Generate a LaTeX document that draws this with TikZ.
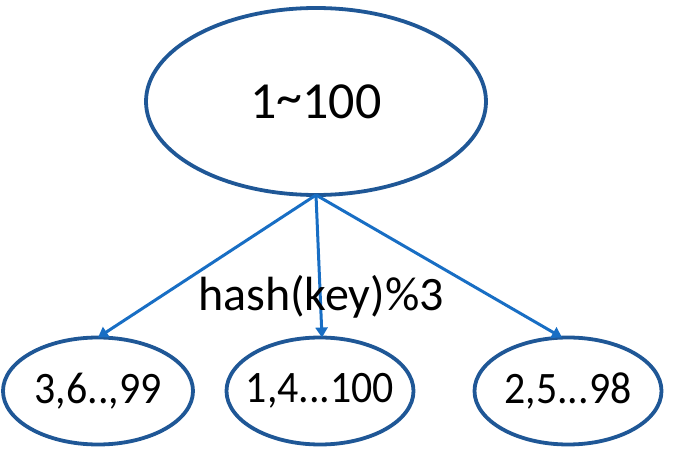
\documentclass[tikz,border=0pt]{standalone}
\usepackage{fontspec}
\setmainfont{Carlito}
\usetikzlibrary{shapes.geometric,arrows.meta}
\definecolor{ringblue}{RGB}{31,87,150}
\definecolor{arrowblue}{RGB}{24,110,196}
\tikzset{
  ring/.style={ellipse,draw=ringblue,line width=3.8pt,inner sep=0pt,outer sep=0pt,text=black},
  conn/.style={draw=arrowblue,line width=3pt,-{Triangle[width=12pt,length=10pt]}},
  bigtext/.style={font=\fontsize{45}{54}\selectfont},
}
\newcommand{\zerow}[1]{\makebox[0pt]{\scalebox{0.93}[1]{#1}}}
\begin{document}
\begin{tikzpicture}[x=1pt,y=1pt]
\useasboundingbox (0,0) rectangle (683,458);
\node[ring,minimum width=340pt,minimum height=187pt,font=\fontsize{52}{60}\selectfont] (top) at (316,356.5) {1\raisebox{0.08em}{\textasciitilde}100};
\node[ring,bigtext,minimum width=190pt,minimum height=107pt] (left) at (98,67) {\zerow{3,6..,99}};
\node[ring,bigtext,minimum width=187pt,minimum height=107pt] (mid) at (320,67) {\zerow{1,4...100}};
\node[ring,bigtext,minimum width=187pt,minimum height=107pt] (right) at (568,67) {\zerow{2,5...98}};
\draw[conn] (top.south) -- (left.north);
\draw[conn] (top.south) -- ([xshift=2pt]mid.north);
\draw[conn] (top.south) -- ([xshift=-6pt]right.north);
\node[font=\fontsize{48}{56}\selectfont] (hashlabel) at (321,161) {hash(key)\%3};
\end{tikzpicture}
\end{document}
